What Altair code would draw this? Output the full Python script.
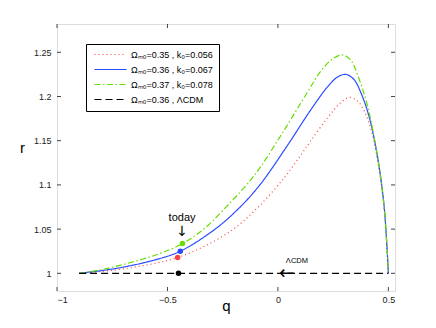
import altair as alt
import pandas as pd

FONT = "Liberation Sans"

series_labels = ["Ωₘ₀=0.35 , k₀=0.056", "Ωₘ₀=0.36 , k₀=0.067",
                 "Ωₘ₀=0.37 , k₀=0.078", "Ωₘ₀=0.36 , ΛCDM"]
series_colors = ["#ff4040", "#2a4bff", "#66dd00", "#000000"]
series_dash = [[1, 3], [1, 0], [6, 2.5, 1.5, 2.5], [7, 4]]

q_red = [-0.9, -0.8, -0.7, -0.552, -0.454, -0.33, -0.198, -0.085, 0.0285, 0.104,
         0.149, 0.225, 0.28, 0.323, 0.36, 0.39, 0.421, 0.451, 0.481, 0.5]
r_red = [1.0, 1.002, 1.005, 1.0115, 1.0178, 1.031, 1.0506, 1.076, 1.108, 1.134,
         1.150, 1.176, 1.192, 1.199, 1.195, 1.184, 1.163, 1.128, 1.073, 1.0]

q_blue = [-0.9, -0.8, -0.7, -0.552, -0.442, -0.281, -0.167, -0.077, 0.044, 0.149,
          0.225, 0.27, 0.308, 0.345, 0.376, 0.413, 0.451, 0.481, 0.5]
r_blue = [1.0, 1.003, 1.007, 1.0155, 1.025, 1.0506, 1.076, 1.1015, 1.145, 1.185,
          1.211, 1.222, 1.225, 1.219, 1.204, 1.177, 1.1316, 1.075, 1.0]

q_green = [-0.9, -0.8, -0.7, -0.55, -0.432, -0.333, -0.213, -0.122, -0.077, 0.0285,
           0.134, 0.195, 0.25, 0.293, 0.33, 0.361, 0.406, 0.451, 0.481, 0.5]
r_green = [1.0, 1.004, 1.010, 1.021, 1.0336, 1.0506, 1.0807, 1.106, 1.121, 1.162,
           1.205, 1.229, 1.243, 1.247, 1.241, 1.224, 1.189, 1.1316, 1.075, 1.0]

q_lcdm = [-0.9, 0.5]
r_lcdm = [1.0, 1.0]

today_q = [-0.454, -0.442, -0.432, -0.45]
today_r = [1.0178, 1.025, 1.0336, 1.0]

ann_text = ["today", "↓", "ΛCDM", "←"]
ann_q = [-0.434, -0.434, 0.086, 0.041]
ann_r = [1.0588, 1.0464, 1.0122, 1.0]
ann_size = [11, 14, 7.5, 19]
ann_font = [FONT, "DejaVu Sans", FONT, "DejaVu Sans"]
ann_baseline = ["alphabetic", "middle", "alphabetic", "middle"]

x_ticks = [-1, -0.5, 0, 0.5]
y_ticks = [1, 1.05, 1.1, 1.15, 1.2, 1.25]

W, H = 338, 267
FRAME = "#444444"
TL = 4

rows = []
for lab, qs, rs in zip(series_labels, [q_red, q_blue, q_green, q_lcdm],
                       [r_red, r_blue, r_green, r_lcdm]):
    for i, (q, r) in enumerate(zip(qs, rs)):
        rows.append({"series": lab, "q": q, "r": r, "i": i})
lines_df = pd.DataFrame(rows)

pts_df = pd.DataFrame({"q": today_q, "r": today_r, "c": series_colors})
xt_df = pd.DataFrame({"q": x_ticks})
yt_df = pd.DataFrame({"r": y_ticks})

xs = alt.Scale(domain=[-1, 0.53], nice=False, zero=False)
ys = alt.Scale(domain=[0.98, 1.282], nice=False, zero=False)
xaxis = alt.Axis(values=x_ticks, format="~g", title="q", ticks=False, domain=False,
                 grid=False, labelPadding=4, labelFontSize=9, labelFont=FONT,
                 labelColor="#222", titleFont=FONT, titleFontSize=15,
                 titleFontWeight="normal", titleColor="#000",
                 titleY=19, titleBaseline="alphabetic")
yaxis = alt.Axis(values=y_ticks, format="~g", title="r", ticks=False, domain=False,
                 grid=False, labelPadding=6, labelFontSize=9, labelFont=FONT,
                 labelColor="#222", titleFont=FONT, titleFontSize=15,
                 titleFontWeight="normal", titleAngle=0, titleColor="#000",
                 titleX=-35, titleY=123, titleBaseline="middle", titleAlign="center")


def X(field="q"):
    return alt.X(f"{field}:Q", scale=xs, axis=xaxis)


def Y(field="r"):
    return alt.Y(f"{field}:Q", scale=ys, axis=yaxis)


lines = alt.Chart(lines_df).mark_line(strokeWidth=1.2, interpolate="catmull-rom").encode(
    x=X(), y=Y(),
    order="i:Q",
    color=alt.Color("series:N", scale=alt.Scale(domain=series_labels, range=series_colors),
                    legend=alt.Legend(orient="none", legendX=29, legendY=20, title=None,
                                      symbolType="M-1,0H15", symbolSize=16,
                                      symbolStrokeWidth=1.2, labelOffset=30,
                                      labelFont=FONT, labelFontSize=9, labelColor="#000",
                                      padding=6, rowPadding=5, strokeColor="#000",
                                      fillColor="white", cornerRadius=0)),
    strokeDash=alt.StrokeDash("series:N",
                              scale=alt.Scale(domain=series_labels, range=series_dash),
                              legend=None),
)

points = alt.Chart(pts_df).mark_circle(size=30, opacity=1).encode(
    x=X(), y=Y(), color=alt.Color("c:N", scale=None)
)

texts = []
for t, q, r, s, f, b in zip(ann_text, ann_q, ann_r, ann_size, ann_font, ann_baseline):
    d = pd.DataFrame({"t": [t], "q": [q], "r": [r]})
    texts.append(alt.Chart(d).mark_text(font=f, fontSize=s, baseline=b,
                                         align="center", color="#000").encode(
        x=X(), y=Y(), text="t:N"))

tb = alt.Chart(xt_df).mark_rule(color=FRAME).encode(x=X(), y=alt.value(H), y2=alt.value(H - TL))
tt = alt.Chart(xt_df).mark_rule(color=FRAME).encode(x=X(), y=alt.value(0), y2=alt.value(TL))
tl = alt.Chart(yt_df).mark_rule(color=FRAME).encode(y=Y(), x=alt.value(0), x2=alt.value(TL))
tr = alt.Chart(yt_df).mark_rule(color=FRAME).encode(y=Y(), x=alt.value(W), x2=alt.value(W - TL))

chart = alt.layer(tb, tt, tl, tr, lines, points, *texts).properties(
    width=W, height=H,
    autosize=alt.AutoSizeParams(type="none"),
    padding={"left": 49, "top": 16, "right": 33, "bottom": 29},
).configure_view(stroke=FRAME, strokeWidth=1).configure(background="white")

chart.save("out.html", embed_options={"renderer": "svg", "actions": False})
